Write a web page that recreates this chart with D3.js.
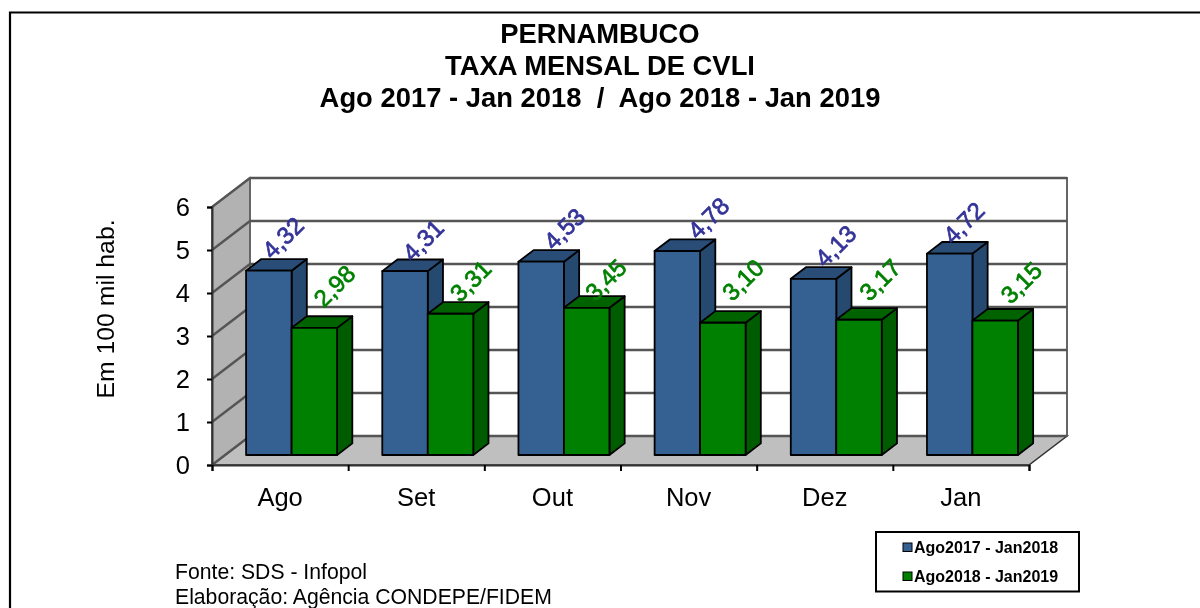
<!DOCTYPE html>
<html>
<head>
<meta charset="utf-8">
<script src="https://cdnjs.cloudflare.com/ajax/libs/d3/7.8.5/d3.min.js"></script>
<style>
  html, body { margin: 0; padding: 0; background: #fff; overflow: hidden; }
  text { font-family: "Liberation Sans", Arial, sans-serif; fill: #000; white-space: pre; }
</style>
</head>
<body>
<div class="canvas"></div>
<script>
// data
const months = ['Ago', 'Set', 'Out', 'Nov', 'Dez', 'Jan'];
const serie2018 = [4.32, 4.31, 4.53, 4.78, 4.13, 4.72];
const serie2019 = [2.98, 3.31, 3.45, 3.10, 3.17, 3.15];
const serieNames = ['Ago2017 - Jan2018', 'Ago2018 - Jan2019'];
const yTicks = [0, 1, 2, 3, 4, 5, 6];
const titleLines = ['PERNAMBUCO', 'TAXA MENSAL DE CVLI', 'Ago 2017 - Jan 2018  /  Ago 2018 - Jan 2019'];
const sourceLines = ['Fonte: SDS - Infopol', 'Elaboração: Agência CONDEPE/FIDEM'];

// labels were moved by hand in the original
const labelShiftX = [[14, 18, 23, 31, 22, 14], [20, 20, 19, 20, 21, 26]];
const labelLift = [[33, 31, 33, 33, 33, 31], [42, 33, 28, 43, 40, 38]];

const dims = {width: 1200, height: 608};
const depth = {x: 38, y: 29};
const barDepth = {near: 0.345, far: 0.745};

const colours = [
    {front: '#366092', side: '#264a70', top: '#2a4d78', label: '#333399'},
    {front: '#008000', side: '#005c00', top: '#006400', label: '#008000'}
];

const svgRoot = d3.select('.canvas')
    .append('svg')
    .attr('width', dims.width)
    .attr('height', dims.height)
    .style('display', 'block');

// the source picture is soft, same look here
svgRoot.append('defs').append('filter')
    .attr('id', 'soft')
    .attr('filterUnits', 'userSpaceOnUse')
    .attr('x', 0).attr('y', 0)
    .attr('width', dims.width).attr('height', dims.height)
    .append('feGaussianBlur')
    .attr('stdDeviation', 0.4);

const svg = svgRoot.append('g').attr('filter', 'url(#soft)');

const x = d3.scaleBand().domain(months).range([212, 1029]);
const xSerie = d3.scaleBand().domain([0, 1]).range([21, 112]);
const y = d3.scaleLinear().domain([0, 6]).range([465, 207]);
const h = d3.scaleLinear().domain([0, 6]).range([0, 256]);
const xEdges = d3.scaleLinear().domain([0, 6]).range([212, 1029]);

// front plane -> point at depth d
const pt = (px, py, d) => [px + d * depth.x, py - d * depth.y];
const poly = pts => pts.map(p => p.join(',')).join(' ');

// frame, open on the right
svg.append('path')
    .attr('d', `M10,${dims.height}V12.5H${dims.width}`)
    .attr('fill', 'none')
    .attr('stroke', '#000')
    .attr('stroke-width', 2.2);

// titles
svg.selectAll('.title')
    .data(titleLines)
    .enter().append('text')
    .attr('class', 'title')
    .attr('x', 600)
    .attr('y', (d, i) => [43, 75, 107][i])
    .attr('text-anchor', 'middle')
    .attr('font-weight', 'bold')
    .attr('font-size', 27.4)
    .text(d => d);

// walls
const x0 = xEdges(0), x1 = xEdges(6), y0 = y(0), y6 = y(6);

svg.append('polygon')
    .attr('points', poly([pt(x0, y0, 0), pt(x0, y0, 1), pt(x1, y0, 1), pt(x1, y0, 0)]))
    .attr('fill', '#bfbfbf')
    .attr('stroke', '#333')
    .attr('stroke-width', 1.5);

svg.append('polygon')
    .attr('points', poly([pt(x0, y0, 0), pt(x0, y6, 0), pt(x0, y6, 1), pt(x0, y0, 1)]))
    .attr('fill', '#b2b2b2')
    .attr('stroke', '#333')
    .attr('stroke-width', 1.5);

svg.append('polygon')
    .attr('points', poly([pt(x0, y0, 1), pt(x0, y6, 1), pt(x1, y6, 1), pt(x1, y0, 1)]))
    .attr('fill', '#fff')
    .attr('stroke', '#666')
    .attr('stroke-width', 2);

// gridlines, back wall and left wall
const grid = svg.append('g')
    .attr('fill', 'none')
    .attr('stroke', '#555')
    .attr('stroke-width', 2.4);

grid.selectAll('path')
    .data(yTicks)
    .enter().append('path')
    .attr('d', d => {
        const a = pt(x0, y(d), 0), b = pt(x0, y(d), 1), c = pt(x1, y(d), 1);
        return `M${a}L${b}L${c}`;
    });

// bars
months.forEach((m, i) => {
    [serie2018[i], serie2019[i]].forEach((v, s) => {
        const c = colours[s];
        const left = x(m) + xSerie(s);
        const right = left + xSerie.bandwidth();
        const base = y(0);
        const top = base - h(v);
        const n = barDepth.near, f = barDepth.far;
        const bar = svg.append('g')
            .attr('stroke', '#000')
            .attr('stroke-width', 1.8)
            .attr('stroke-linejoin', 'round');

        bar.append('polygon')
            .attr('points', poly([pt(right, base, n), pt(right, top, n), pt(right, top, f), pt(right, base, f)]))
            .attr('fill', c.side);
        bar.append('polygon')
            .attr('points', poly([pt(left, top, n), pt(left, top, f), pt(right, top, f), pt(right, top, n)]))
            .attr('fill', c.top);
        bar.append('polygon')
            .attr('points', poly([pt(left, base, n), pt(left, top, n), pt(right, top, n), pt(right, base, n)]))
            .attr('fill', c.front);
    });
});

// value labels
const labels = svg.append('g');
months.forEach((m, i) => {
    [serie2018[i], serie2019[i]].forEach((v, s) => {
        const [bx, by] = pt(x(m) + xSerie(s) + xSerie.bandwidth() / 2, y(0) - h(v), barDepth.near);
        labels.append('text')
            .attr('transform', `translate(${bx + labelShiftX[s][i]},${by - labelLift[s][i]}) rotate(-45)`)
            .attr('text-anchor', 'middle')
            .attr('dominant-baseline', 'central')
            .attr('font-size', 24)
            .style('fill', colours[s].label)
            .style('stroke', colours[s].label)
            .style('stroke-width', 0.7)
            .text(d3.format('.2f')(v).replace('.', ','));
    });
});

// axes
const yAxis = svg.append('g')
    .attr('transform', `translate(${x0},0)`)
    .call(d3.axisLeft(y).tickValues(yTicks).tickFormat(d3.format('d')).tickSize(5).tickPadding(17));

const xAxisTicks = svg.append('g')
    .attr('transform', `translate(0,${y0})`)
    .call(d3.axisBottom(xEdges).ticks(6).tickSize(6).tickFormat(''));

const xAxis = svg.append('g')
    .attr('transform', `translate(0,${y0})`)
    .call(d3.axisBottom(x).tickSize(0).tickPadding(23));

[yAxis, xAxisTicks].forEach(a => {
    a.selectAll('line').attr('stroke', '#000').attr('stroke-width', 2);
});
yAxis.select('.domain').attr('stroke', '#333').attr('stroke-width', 2);
xAxisTicks.select('.domain').attr('stroke', '#333').attr('stroke-width', 2);
xAxis.select('.domain').remove();
yAxis.selectAll('text').attr('font-size', 25.5).attr('font-family', null);
xAxis.selectAll('text').attr('font-size', 25.5).attr('font-family', null);

// y title
svg.append('text')
    .attr('transform', 'translate(114,309) rotate(-90)')
    .attr('text-anchor', 'middle')
    .attr('font-size', 24.8)
    .text('Em 100 mil hab.');

// source
svg.selectAll('.source')
    .data(sourceLines)
    .enter().append('text')
    .attr('class', 'source')
    .attr('x', 175)
    .attr('y', (d, i) => 579 + i * 25)
    .attr('font-size', 21.2)
    .text(d => d);

// legend
const legend = svg.append('g').attr('transform', 'translate(876,532)');

legend.append('rect')
    .attr('width', 203)
    .attr('height', 59.5)
    .attr('fill', '#fff')
    .attr('stroke', '#000')
    .attr('stroke-width', 2);

const legendRows = legend.selectAll('.row')
    .data(serieNames)
    .enter().append('g')
    .attr('class', 'row')
    .attr('transform', (d, i) => `translate(27,${11 + i * 29})`);

legendRows.append('rect')
    .attr('width', 9)
    .attr('height', 8.5)
    .attr('fill', (d, i) => colours[i].front)
    .attr('stroke', '#000');

legendRows.append('text')
    .attr('x', 11)
    .attr('y', 10)
    .attr('font-weight', 'bold')
    .attr('font-size', 16)
    .text(d => d);
</script>
</body>
</html>
